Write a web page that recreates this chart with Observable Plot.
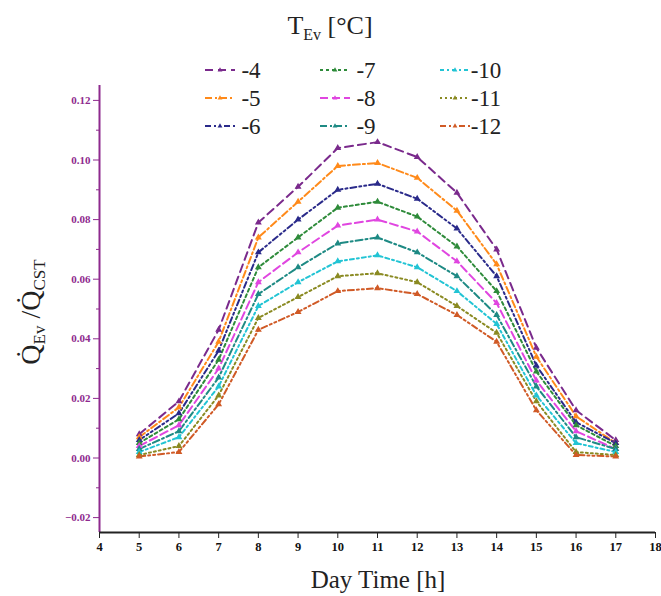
<!DOCTYPE html>
<html>
<head>
<meta charset="utf-8">
<script src="https://cdn.jsdelivr.net/npm/d3@7"></script>
<script src="https://cdn.jsdelivr.net/npm/@observablehq/plot@0.6"></script>
<style>
  html, body { margin: 0; padding: 0; background: #fff; }
  #chart { width: 661px; height: 596px; }
  #chart svg text { font-family: 'Liberation Serif', 'DejaVu Serif', serif; }
</style>
</head>
<body>
<div id="chart"></div>
<script>
// ---------- data ----------
const hours = [5, 6, 7, 8, 9, 10, 11, 12, 13, 14, 15, 16, 17];
const seriesNames = ["-4", "-5", "-6", "-7", "-8", "-9", "-10", "-11", "-12"];
const v_m4  = [0.008, 0.019, 0.043, 0.079, 0.091, 0.104, 0.106, 0.101, 0.089, 0.070, 0.037, 0.016, 0.006];
const v_m5  = [0.007, 0.017, 0.039, 0.074, 0.086, 0.098, 0.099, 0.094, 0.083, 0.065, 0.034, 0.014, 0.005];
const v_m6  = [0.006, 0.015, 0.036, 0.069, 0.080, 0.090, 0.092, 0.087, 0.077, 0.061, 0.031, 0.012, 0.005];
const v_m7  = [0.005, 0.013, 0.033, 0.064, 0.074, 0.084, 0.086, 0.081, 0.071, 0.056, 0.029, 0.011, 0.004];
const v_m8  = [0.004, 0.011, 0.030, 0.059, 0.069, 0.078, 0.080, 0.076, 0.066, 0.052, 0.026, 0.009, 0.003];
const v_m9  = [0.003, 0.009, 0.027, 0.055, 0.064, 0.072, 0.074, 0.069, 0.061, 0.048, 0.024, 0.007, 0.003];
const v_m10 = [0.002, 0.007, 0.024, 0.051, 0.059, 0.066, 0.068, 0.064, 0.056, 0.045, 0.021, 0.005, 0.002];
const v_m11 = [0.001, 0.004, 0.021, 0.047, 0.054, 0.061, 0.062, 0.059, 0.051, 0.042, 0.019, 0.002, 0.001];
const v_m12 = [0.0005, 0.002, 0.018, 0.043, 0.049, 0.056, 0.057, 0.055, 0.048, 0.039, 0.016, 0.001, 0.0005];
const seriesValues = [v_m4, v_m5, v_m6, v_m7, v_m8, v_m9, v_m10, v_m11, v_m12];
const yMajorTicks = [-0.02, 0, 0.02, 0.04, 0.06, 0.08, 0.10, 0.12];
const yMinorTicks = [-0.01, 0.01, 0.03, 0.05, 0.07, 0.09, 0.11];
const xTicks = [4, 5, 6, 7, 8, 9, 10, 11, 12, 13, 14, 15, 16, 17, 18];

// ---------- styles ----------
const colors = ["#7a2a8c", "#ff8a1a", "#2a2a8a", "#2e8b3a", "#e046e0", "#1e8a84", "#22c4d4", "#8a8a22", "#d05a26"];
const dashes = ["8,5", "7,3,2,3", "6,3,2,3,2,3", "3,3", "8,4", "7,3,2,3", "4,3,2,3", "2,3", "6,3,2,3,2,3"];
const FONT = "Liberation Serif, DejaVu Serif, serif";
const AXISPURPLE = "#8e2a8e";

const rows = [];
seriesNames.forEach((s, i) => hours.forEach((h, j) => rows.push({series: s, idx: i, hour: h, value: seriesValues[i][j]})));

const lineMarks = seriesNames.map((s, i) => Plot.line(rows.filter(d => d.series === s), {
  x: "hour", y: "value", stroke: colors[i], strokeWidth: 2, strokeDasharray: dashes[i], curve: "linear"
}));
const dotMarks = seriesNames.map((s, i) => Plot.dot(rows.filter(d => d.series === s), {
  x: "hour", y: "value", stroke: colors[i], fill: colors[i], symbol: "triangle", r: 1.6
}));

const chart = Plot.plot({
  width: 661,
  height: 596,
  marginLeft: 99,
  marginRight: 6,
  marginTop: 85,
  marginBottom: 64,
  style: {fontFamily: FONT, background: "#fff"},
  x: {domain: [4, 18]},
  y: {domain: [-0.025, 0.125]},
  marks: [
    Plot.axisY({ticks: yMajorTicks, tickFormat: d3.format(".2f"), tickSize: 6, tickPadding: 3,
      stroke: AXISPURPLE, fill: AXISPURPLE, fontSize: 11, fontWeight: "bold", fontFamily: FONT, label: null}),
    Plot.axisY({ticks: yMinorTicks, tickSize: 3, text: null, stroke: AXISPURPLE, label: null}),
    Plot.axisX({ticks: xTicks, tickFormat: d => d, tickSize: 6, tickPadding: 4,
      stroke: "#222", fill: "#111", fontSize: 12.5, fontWeight: "bold", fontFamily: FONT, label: null}),
    Plot.ruleX([4], {stroke: AXISPURPLE, strokeWidth: 2}),
    Plot.ruleY([-0.025], {stroke: "#222", strokeWidth: 2}),
    ...lineMarks,
    ...dotMarks
  ]
});

document.getElementById("chart").appendChild(chart);

// ---------- annotations: legend & axis titles ----------
const svg = d3.select(chart);

// Legend title
const lt = svg.append("text").attr("x", 330).attr("y", 34).attr("text-anchor", "middle")
  .attr("font-family", FONT).attr("font-size", 26).attr("fill", "#222");
lt.append("tspan").text("T");
lt.append("tspan").attr("font-size", 16).attr("dy", 6).text("Ev");
lt.append("tspan").attr("dy", -6).text(" [°C]");

// Legend entries (3 columns × 3 rows)
const colX = [205, 320, 440];
const rowY = [70, 98, 126];
seriesNames.forEach((s, i) => {
  const c = Math.floor(i / 3), r = i % 3;
  const x0 = colX[c], y0 = rowY[r];
  const g = svg.append("g");
  g.append("line").attr("x1", x0).attr("x2", x0 + 30).attr("y1", y0).attr("y2", y0)
    .attr("stroke", colors[i]).attr("stroke-width", 2).attr("stroke-dasharray", dashes[i]);
  g.append("path").attr("d", d3.symbol(d3.symbolTriangle, 10)())
    .attr("transform", `translate(${x0 + 15},${y0})`).attr("fill", colors[i]);
  g.append("text").attr("x", x0 + 46).attr("y", y0 + 8).attr("font-family", FONT)
    .attr("font-size", 23).attr("fill", "#222").text(s);
});

// Y-axis title
const yt = svg.append("text").attr("transform", "translate(40,312) rotate(-90)")
  .attr("text-anchor", "middle").attr("font-family", FONT).attr("font-size", 28).attr("fill", "#222");
yt.append("tspan").text("Q\u0307");
yt.append("tspan").attr("font-size", 17).attr("dy", 5).text("Ev");
yt.append("tspan").attr("dy", -5).text(" /Q\u0307");
yt.append("tspan").attr("font-size", 17).attr("dy", 5).text("CST");

// X-axis title
svg.append("text").attr("x", 378).attr("y", 588).attr("text-anchor", "middle")
  .attr("font-family", FONT).attr("font-size", 25).attr("fill", "#222").text("Day Time [h]");
</script>
</body>
</html>
